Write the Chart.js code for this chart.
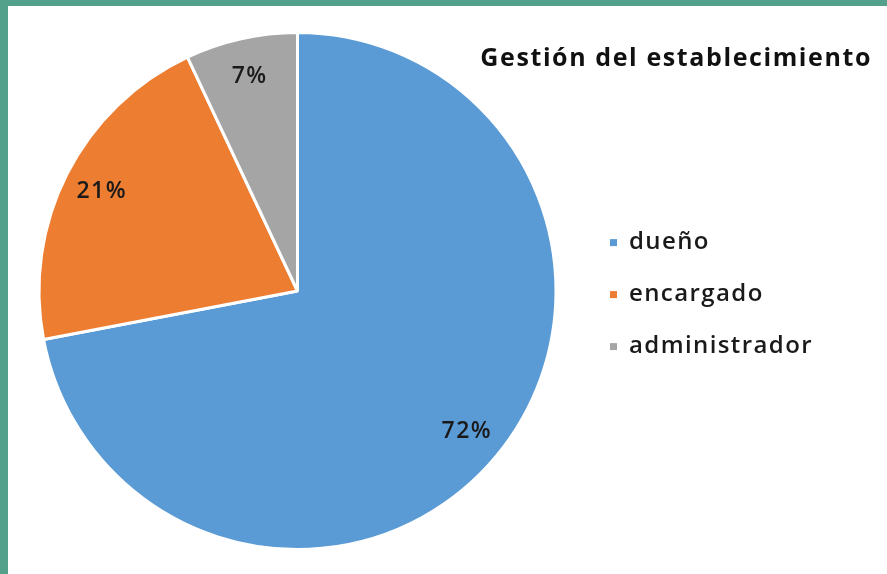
<!DOCTYPE html>
<html>
<head>
<meta charset="utf-8">
<script src="https://cdn.jsdelivr.net/npm/chart.js@4.4.0/dist/chart.umd.min.js"></script>
<style>
  html, body { margin: 0; padding: 0; }
  body { width: 887px; height: 574px; background: #53a18b; position: relative; overflow: hidden; }
  #panel { position: absolute; left: 8px; top: 6px; width: 879px; height: 568px; background: #ffffff; }
  #chart { position: absolute; left: 0; top: 0; }
  #title { position: absolute; right: 15px; top: 30px; font-family: "Open Sans", sans-serif; font-weight: 700;
           font-size: 25px; letter-spacing: 1.6px; color: #111; white-space: nowrap; line-height: 40px; }
</style>
</head>
<body>
<div id="panel">
  <canvas id="chart" width="879" height="568"></canvas>
  <div id="title"></div>
</div>
<script>
const categories = ["dueño", "encargado", "administrador"];
const values = [72, 21, 7];
const colors = ["#5b9bd5", "#ed7d31", "#a5a5a5"];
const chartTitle = "Gestión del establecimiento";

document.getElementById('title').textContent = chartTitle;

const legendFontSize = 24;
const legendWeight = 600;
const legendPad = 28;
const boxW = 7;
const spacing = '1.4px';
const legendFont = legendWeight + ' ' + legendFontSize + 'px "Open Sans"';

// measure legend text to place the pie centre
const mctx = document.createElement('canvas').getContext('2d');
mctx.font = legendFont;
mctx.letterSpacing = spacing;
let maxText = 0;
categories.forEach(c => { maxText = Math.max(maxText, mctx.measureText(c).width); });
const legendWidth = legendPad + boxW + legendFontSize / 2 + maxText + 10;
const canvasW = 879;
const legendLeft = 574;
const padRight = Math.max(0, canvasW - legendLeft - legendWidth);

const spacingPlugin = {
  id: 'letterSpacing',
  beforeLayout(chart) { chart.ctx.letterSpacing = spacing; },
  beforeDraw(chart) { chart.ctx.letterSpacing = spacing; }
};

const labelPlugin = {
  id: 'pctLabels',
  afterDatasetsDraw(chart) {
    const ctx = chart.ctx;
    const meta = chart.getDatasetMeta(0);
    const data = chart.data.datasets[0].data;
    ctx.save();
    ctx.font = '600 23px "Open Sans"';
    ctx.fillStyle = '#1a1a1a';
    ctx.textAlign = 'center';
    ctx.textBaseline = 'middle';
    meta.data.forEach((arc, i) => {
      const p = arc.getProps(['x', 'y', 'startAngle', 'endAngle', 'outerRadius'], true);
      const mid = (p.startAngle + p.endAngle) / 2;
      const r = p.outerRadius * 0.85;
      ctx.fillText(data[i] + '%', p.x + Math.cos(mid) * r, p.y + Math.sin(mid) * r);
    });
    ctx.restore();
  }
};

const baseGen = (Chart.overrides.doughnut && Chart.overrides.doughnut.plugins.legend.labels.generateLabels);

new Chart(document.getElementById('chart'), {
  type: 'pie',
  data: {
    labels: categories,
    datasets: [{
      data: values,
      backgroundColor: colors,
      borderColor: '#ffffff',
      borderWidth: 3
    }]
  },
  options: {
    responsive: false,
    animation: false,
    layout: { padding: { left: 5, top: 25, bottom: 23, right: padRight } },
    plugins: {
      tooltip: { enabled: false },
      title: { display: false },
      legend: {
        position: 'right',
        title: { display: true, text: '', font: { size: 6 }, padding: 0 },
        labels: {
          boxWidth: boxW,
          boxHeight: boxW,
          padding: legendPad,
          color: '#1a1a1a',
          font: { family: '"Open Sans"', size: legendFontSize, weight: legendWeight },
          generateLabels(chart) {
            return baseGen(chart).map(l => Object.assign({}, l, { lineWidth: 0, strokeStyle: l.fillStyle }));
          }
        }
      }
    }
  },
  plugins: [spacingPlugin, labelPlugin]
});
</script>
</body>
</html>
